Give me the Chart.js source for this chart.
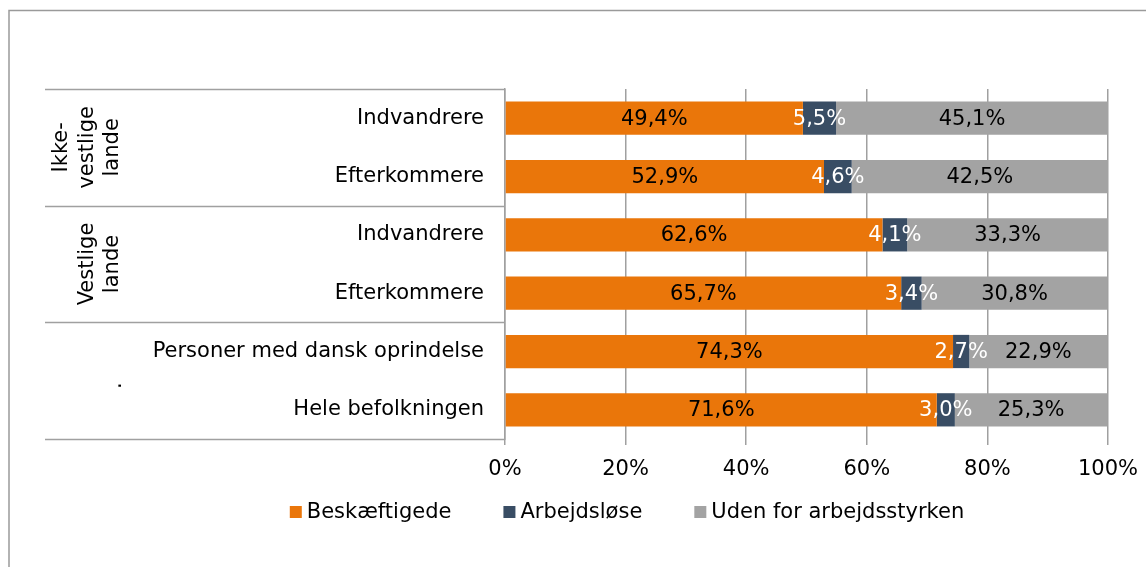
<!DOCTYPE html>
<html>
<head>
<meta charset="utf-8">
<script src="https://cdn.jsdelivr.net/npm/chart.js@4.4.1/dist/chart.umd.min.js"></script>
<style>
  html, body { margin: 0; padding: 0; background: #fff; }
  #wrap { width: 1146px; height: 567px; position: relative; }
</style>
</head>
<body>
<div id="wrap"><canvas id="myChart"></canvas></div>
<script>
const categories = ['Indvandrere', 'Efterkommere', 'Indvandrere', 'Efterkommere', 'Personer med dansk oprindelse', 'Hele befolkningen'];
const groupNames = [['Ikke-', 'vestlige', 'lande'], ['Vestlige', 'lande'], ['.']];
const groupSizes = [2, 2, 2];
const beskaeftigede = [49.4, 52.9, 62.6, 65.7, 74.3, 71.6];
const arbejdsloese = [5.5, 4.6, 4.1, 3.4, 2.7, 3.0];
const udenFor = [45.1, 42.5, 33.3, 30.8, 22.9, 25.3];
const xTicks = [0, 20, 40, 60, 80, 100];

const FONT = 'DejaVu Sans, Verdana, sans-serif';
const SIZE = 21;
const lineCol = '#a0a0a0';

const fmt = v => v.toFixed(1).replace('.', ',') + '%';

// frame, table lines, group labels and legend
const tablePlugin = {
  id: 'table',
  afterDraw(chart) {
    const c = chart.ctx;
    const area = chart.chartArea;
    const y = chart.scales.y;
    c.save();
    c.strokeStyle = '#9a9a9a';
    c.lineWidth = 1.5;
    c.beginPath();
    c.moveTo(9, 567);
    c.lineTo(9, 10.5);
    c.lineTo(1146, 10.5);
    c.stroke();

    c.strokeStyle = lineCol;
    c.lineWidth = 1.5;
    let idx = 0;
    const bounds = [area.top];
    groupSizes.forEach(n => {
      idx += n;
      if (idx < categories.length) {
        bounds.push((y.getPixelForValue(idx - 1) + y.getPixelForValue(idx)) / 2);
      } else {
        bounds.push(area.bottom);
      }
    });
    bounds.forEach(b => {
      c.beginPath();
      c.moveTo(45, Math.round(b) + 0.5);
      c.lineTo(area.left, Math.round(b) + 0.5);
      c.stroke();
    });

    c.fillStyle = '#000';
    c.font = SIZE + 'px ' + FONT;
    c.textAlign = 'center';
    c.textBaseline = 'middle';
    groupNames.forEach((lines, g) => {
      const cy = (bounds[g] + bounds[g + 1]) / 2;
      const lastX = 113;
      lines.forEach((t, i) => {
        const x = lastX - (lines.length - 1 - i) * 25.5;
        c.save();
        c.translate(x, cy + (lines.length === 1 ? 5 : 0));
        c.rotate(-Math.PI / 2);
        c.fillText(t, 0, lines.length === 1 ? 3 : 0);
        c.restore();
      });
    });

    // legend
    const ly = 512;
    const box = 12, gap = 5, spacing = 52;
    c.textAlign = 'left';
    const widths = chart.data.datasets.map(ds => box + gap + c.measureText(ds.label).width);
    const total = widths.reduce((a, b) => a + b, 0) + spacing * (widths.length - 1);
    let lx = 627 - total / 2;
    chart.data.datasets.forEach((ds, i) => {
      c.fillStyle = ds.backgroundColor;
      c.fillRect(lx, ly - box / 2, box, box);
      c.fillStyle = '#000';
      c.fillText(ds.label, lx + box + gap, ly + 1);
      lx += widths[i] + spacing;
    });
    c.restore();
  }
};

// value labels inside the bars
const labelPlugin = {
  id: 'barLabels',
  afterDatasetsDraw(chart) {
    const c = chart.ctx;
    c.save();
    c.font = SIZE + 'px ' + FONT;
    c.textAlign = 'center';
    c.textBaseline = 'middle';
    chart.data.datasets.forEach((ds, di) => {
      const meta = chart.getDatasetMeta(di);
      meta.data.forEach((bar, i) => {
        const cx = (bar.x + bar.base) / 2;
        c.fillStyle = ds.labelColor;
        c.fillText(fmt(ds.data[i]), cx, bar.y + 1);
      });
    });
    c.restore();
  }
};

new Chart(document.getElementById('myChart'), {
  type: 'bar',
  data: {
    labels: categories,
    datasets: [
      { label: 'Beskæftigede', data: beskaeftigede, backgroundColor: '#ea760a', labelColor: '#000' },
      { label: 'Arbejdsløse', data: arbejdsloese, backgroundColor: '#394d64', labelColor: '#fff' },
      { label: 'Uden for arbejdsstyrken', data: udenFor, backgroundColor: '#a3a3a3', labelColor: '#000' }
    ]
  },
  options: {
    responsive: true,
    maintainAspectRatio: false,
    animation: false,
    indexAxis: 'y',
    categoryPercentage: 1,
    barPercentage: 0.57,
    layout: { padding: { left: 0, right: 38, top: 89, bottom: 78 } },
    plugins: {
      tooltip: { enabled: false },
      legend: { display: false }
    },
    scales: {
      x: {
        stacked: true,
        min: 0,
        max: 100,
        afterBuildTicks: s => { s.ticks = xTicks.map(v => ({ value: v })); },
        afterFit: s => { s.height = 50; s.paddingRight = 0; s.paddingLeft = 0; },
        grid: { color: lineCol, lineWidth: 1.5, tickLength: 6 },
        border: { display: false },
        ticks: {
          color: '#000',
          font: { family: FONT, size: SIZE },
          padding: 12,
          callback: v => v + '%'
        }
      },
      y: {
        stacked: true,
        afterFit: s => { s.width = 505; },
        grid: { display: false },
        border: { display: true, color: lineCol, width: 1.5 },
        ticks: {
          color: '#000',
          font: { family: FONT, size: SIZE },
          padding: 13
        }
      }
    }
  },
  plugins: [tablePlugin, labelPlugin]
});
</script>
</body>
</html>
